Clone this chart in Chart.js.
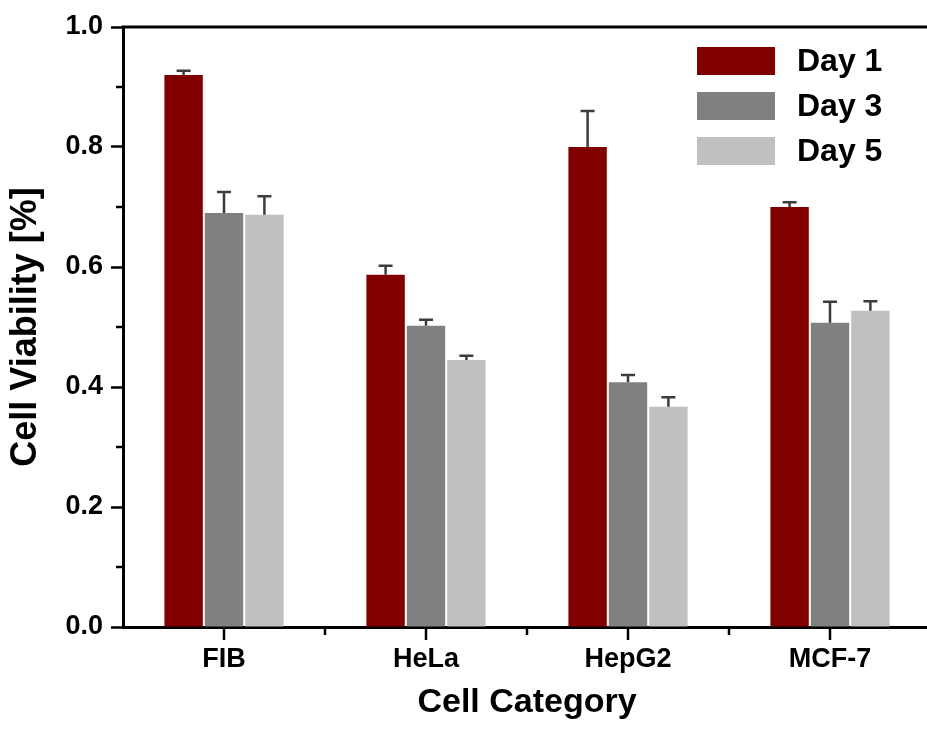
<!doctype html>
<html>

<head>
	<title>Cell Viability</title>
	<script src="https://cdn.jsdelivr.net/npm/chart.js@4/dist/chart.umd.min.js"></script>
	<style type="text/css">
		html, body {
			margin: 0;
			padding: 0;
			overflow: hidden;
			background: #fff;
		}
		#container {
			width: 931px;
			height: 729px;
		}
	</style>
</head>

<body>
	<div id="container">
		<canvas id="canvas"></canvas>
	</div>
	<script>
		var categories = ['FIB', 'HeLa', 'HepG2', 'MCF-7'];
		var seriesLabels = ['Day 1', 'Day 3', 'Day 5'];
		var day1 = [0.920, 0.587, 0.800, 0.700];
		var day3 = [0.690, 0.502, 0.408, 0.507];
		var day5 = [0.687, 0.445, 0.367, 0.527];
		var day1Err = [0.007, 0.015, 0.060, 0.008];
		var day3Err = [0.035, 0.010, 0.012, 0.035];
		var day5Err = [0.031, 0.007, 0.016, 0.016];
		var yTicks = [0.0, 0.2, 0.4, 0.6, 0.8, 1.0];
		var yMinorTicks = [0.1, 0.3, 0.5, 0.7, 0.9];

		var colors = ['#800000', '#808080', '#c0c0c0'];
		var fontFamily = '"Liberation Sans", Arial, sans-serif';

		// one-sided (upper) error bars, read from the errors array on each dataset
		var errorBars = {
			id: 'errorBars',
			afterDatasetsDraw(chart) {
				var ctx = chart.ctx;
				var yScale = chart.scales.y;
				ctx.save();
				ctx.strokeStyle = '#3c3c3c';
				ctx.lineWidth = 2.5;
				chart.data.datasets.forEach(function(ds, i) {
					var meta = chart.getDatasetMeta(i);
					meta.data.forEach(function(bar, j) {
						var top = yScale.getPixelForValue(ds.data[j] + ds.errors[j]);
						ctx.beginPath();
						ctx.moveTo(bar.x, bar.y);
						ctx.lineTo(bar.x, top);
						ctx.moveTo(bar.x - 7, top);
						ctx.lineTo(bar.x + 7, top);
						ctx.stroke();
					});
				});
				ctx.restore();
			}
		};

		// top frame line, x ticks, minor ticks and the boxed legend inside the plot
		var frame = {
			id: 'frame',
			afterDraw(chart) {
				var ctx = chart.ctx;
				var area = chart.chartArea;
				var x = chart.scales.x;
				var y = chart.scales.y;
				ctx.save();
				ctx.strokeStyle = '#000';
				ctx.lineWidth = 3;
				ctx.beginPath();
				ctx.moveTo(area.left - 1.5, area.top);
				ctx.lineTo(chart.width, area.top);
				ctx.stroke();

				ctx.lineWidth = 2.5;
				ctx.beginPath();
				yMinorTicks.forEach(function(v) {
					var py = y.getPixelForValue(v);
					ctx.moveTo(area.left, py);
					ctx.lineTo(area.left - 7, py);
				});
				var step = x.getPixelForValue(1) - x.getPixelForValue(0);
				for (var i = 0; i < categories.length; i++) {
					var px = x.getPixelForValue(i);
					ctx.moveTo(px, area.bottom);
					ctx.lineTo(px, area.bottom + 13);
					ctx.moveTo(px + step / 2, area.bottom);
					ctx.lineTo(px + step / 2, area.bottom + 8);
				}
				ctx.stroke();

				var lx = area.right - 234;
				var ly = area.top + 20;
				ctx.font = 'bold 32px ' + fontFamily;
				ctx.textBaseline = 'middle';
				ctx.textAlign = 'left';
				chart.data.datasets.forEach(function(ds, i) {
					var top = ly + i * 45;
					ctx.fillStyle = ds.backgroundColor;
					ctx.fillRect(lx, top, 78, 28);
					ctx.fillStyle = '#000';
					ctx.fillText(ds.label, lx + 100, top + 15);
				});
				ctx.restore();
			}
		};

		var seriesValues = [day1, day3, day5];
		var seriesErrors = [day1Err, day3Err, day5Err];

		window.onload = function() {
			var ctx = document.getElementById('canvas').getContext('2d');
			window.myChart = new Chart(ctx, {
				type: 'bar',
				data: {
					labels: categories,
					datasets: seriesLabels.map(function(label, i) {
						return {
							label: label,
							data: seriesValues[i],
							errors: seriesErrors[i],
							backgroundColor: colors[i],
							borderWidth: 0,
							barPercentage: 0.95,
							categoryPercentage: 0.6
						};
					})
				},
				options: {
					responsive: true,
					maintainAspectRatio: false,
					animation: false,
					layout: {
						padding: {top: 27, right: 0, bottom: 0, left: 0}
					},
					plugins: {
						legend: {display: false},
						tooltip: {enabled: false}
					},
					scales: {
						x: {
							offset: true,
							grid: {
								display: true,
								drawOnChartArea: false,
								drawTicks: false,
								tickLength: 12
							},
							border: {display: true, color: '#000', width: 3},
							ticks: {
								color: '#000',
								padding: 16,
								font: {family: fontFamily, size: 27, weight: 'bold'}
							},
							title: {
								display: true,
								text: 'Cell Category',
								color: '#000',
								padding: {top: 0, bottom: 6},
								font: {family: fontFamily, size: 34, weight: 'bold'}
							},
							afterFit: function(scale) {
								scale.height = 102;
							}
						},
						y: {
							min: 0,
							max: 1,
							afterBuildTicks: function(scale) {
								scale.ticks = yTicks.map(function(v) { return {value: v}; });
							},
							grid: {
								display: true,
								drawOnChartArea: false,
								tickLength: 12,
								tickWidth: 2.5,
								tickColor: '#000'
							},
							border: {display: true, color: '#000', width: 3},
							ticks: {
								color: '#000',
								padding: 8,
								font: {family: fontFamily, size: 27, weight: 'bold'},
								callback: function(v) { return Number(v).toFixed(1); }
							},
							title: {
								display: true,
								text: 'Cell Viability [%]',
								color: '#000',
								padding: {top: 4, bottom: 0},
								font: {family: fontFamily, size: 36, weight: 'bold'}
							},
							afterFit: function(scale) {
								scale.width = 123;
							}
						}
					}
				},
				plugins: [errorBars, frame]
			});
		};
	</script>
</body>

</html>
